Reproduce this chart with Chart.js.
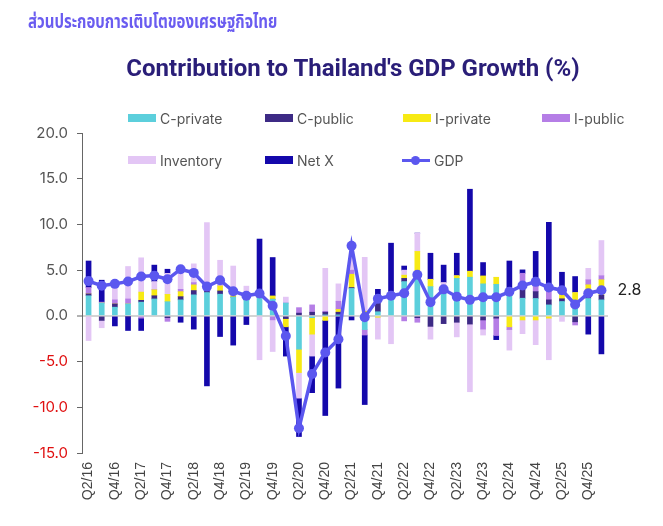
<!DOCTYPE html>
<html><head><meta charset="utf-8">
<script src="https://cdn.jsdelivr.net/npm/chart.js@4.4.1/dist/chart.umd.min.js"></script>
<style>
html,body{margin:0;padding:0;background:#fff;}
#wrap{position:relative;width:663px;height:526px;overflow:hidden;background:#fff;}
#c{position:absolute;left:0;top:0;}
.thai{position:absolute;left:28px;top:7px;font-weight:bold;font-size:20px;font-family:"Noto Sans Thai","Loma","Garuda","Noto Sans","DejaVu Sans",sans-serif;color:#6a5cf0;white-space:nowrap;transform:scaleX(0.75);transform-origin:0 0;}
.title{position:absolute;left:0;width:706px;top:54px;text-align:center;font-weight:bold;font-size:24px;font-family:Roboto,sans-serif;color:#2a1e78;white-space:nowrap;}
.lg{position:absolute;height:20px;display:flex;align-items:center;font-family:Inter,sans-serif;font-size:14px;color:#555;white-space:nowrap;}
.box{display:inline-block;width:28px;height:8px;margin-right:4px;}
.ln{position:relative;display:inline-block;width:28px;height:3px;background:#5b57ef;margin-right:4px;}
.ln::after{content:"";position:absolute;left:9px;top:-3px;width:9px;height:9px;border-radius:50%;background:#5b57ef;}
</style></head>
<body>
<div id="wrap">
<canvas id="c" width="663" height="526"></canvas>
<div class="thai">ส่วนประกอบการเติบโตของเศรษฐกิจไทย</div>
<div class="title">Contribution to Thailand's GDP Growth (%)</div>
<div id="legend"></div>
</div>
<script>
const quarters = ["Q2/16","Q3/16","Q4/16","Q1/17","Q2/17","Q3/17","Q4/17","Q1/18","Q2/18","Q3/18",
"Q4/18","Q1/19","Q2/19","Q3/19","Q4/19","Q1/20","Q2/20","Q3/20","Q4/20","Q1/21",
"Q2/21","Q3/21","Q4/21","Q1/22","Q2/22","Q3/22","Q4/22","Q1/23","Q2/23","Q3/23",
"Q4/23","Q1/24","Q2/24","Q3/24","Q4/24","Q1/25","Q2/25","Q3/25","Q4/25","Q1/26"];
const cPrivate = [2.2,1.4,0.95,1.3,1.5,1.85,1.55,1.75,2.3,2.55,2.37,2.05,1.75,2.0,1.82,1.4,-3.65,-0.2,0.1,0.05,3.0,-1.5,0.45,2.0,3.75,4.85,3.2,2.9,4.1,4.23,3.5,3.45,2.85,1.93,1.9,1.2,1.57,1.57,1.9,1.75];
const cPublic = [0.2,-0.5,0.35,-0.1,0.2,0.35,-0.2,0.35,0.47,0.35,0.36,0,0,0.05,0,-0.3,0.3,0.4,0.3,0.35,0.1,0.3,1.0,0.4,0.35,-0.2,-1.15,-0.85,-0.7,-0.9,-0.45,-0.25,0,0.98,0.75,0.55,0.3,-0.65,0.5,0.5];
const iPrivate = [0,0,0,0,0.9,0.65,0.8,0.55,0.62,0,0.55,0.15,0,0.05,0.36,-0.9,-2.55,-1.8,-0.5,0.3,1.45,0.2,-0.15,0.2,0.35,2.2,0.8,0,0.3,0.65,0.87,0.77,-1.2,-0.45,-0.45,-0.25,0.45,0.98,1.0,1.7];
const iPublic = [0.7,0.1,0.45,0.55,-0.25,0,-0.4,0.25,0.25,0.3,0,0,0,0.25,-0.44,0,0.6,0.8,0.1,0.9,0.45,-0.6,0.3,0,-0.55,-0.5,0,0,0,0,-1.0,-1.9,-0.3,1.75,0.6,1.28,0,-0.35,0.55,0.44];
const inventory = [-2.7,-0.8,1.85,3.55,3.75,0.9,2.3,2.3,2.05,7.0,2.8,3.25,1.5,-4.8,-3.46,0.65,-2.8,-2.4,4.7,1.9,1.45,5.9,-2.4,-3.05,0.55,2.0,-1.4,0.75,-1.6,-7.4,-0.65,0,-2.25,-1.5,-2.7,-4.55,-0.6,0,1.25,3.85];
const netX = [2.9,2.4,-1.1,-1.5,-1.35,1.8,0.45,-0.7,-1.45,-7.66,-2.26,-3.2,-0.95,6.05,4.2,-3.2,-4.2,-4.0,-10.4,-7.9,-0.45,-7.6,1.15,5.35,0.45,0,2.85,1.9,2.45,8.97,1.46,-0.45,3.15,0.37,3.8,7.2,2.45,1.75,-2.0,-4.16];
const gdp = [3.8,3.3,3.5,3.75,4.3,4.4,4.0,5.1,4.7,3.2,3.9,2.7,2.2,2.45,1.1,-2.2,-12.3,-6.35,-4.0,-2.55,7.66,-0.15,1.86,2.19,2.48,4.49,1.5,2.9,2.1,1.75,2.04,2.04,2.63,3.32,3.72,3.1,2.81,1.24,2.48,2.8];
const yTicks = [-15,-10,-5,0,5,10,15,20];

const colors = {cPrivate:'#5ccfdc', cPublic:'#3d2a85', iPrivate:'#f7ea14', iPublic:'#b57ee6', inventory:'#e3c6f5', netX:'#1408ab', gdp:'#5b57ef'};

const legendItems = [
  {t:'C-private', c:colors.cPrivate, x:128, y:118},
  {t:'C-public', c:colors.cPublic, x:265, y:118},
  {t:'I-private', c:colors.iPrivate, x:403, y:118},
  {t:'I-public', c:colors.iPublic, x:542, y:118},
  {t:'Inventory', c:colors.inventory, x:128, y:160},
  {t:'Net X', c:colors.netX, x:265, y:160},
  {t:'GDP', c:colors.gdp, x:402, y:160, line:true}
];
const lg = document.getElementById('legend');
legendItems.forEach(it => {
  const d = document.createElement('div');
  d.className = 'lg';
  d.style.left = it.x + 'px';
  d.style.top = (it.y - 10) + 'px';
  d.innerHTML = (it.line ? '<span class="ln"></span>' : '<span class="box" style="background:' + it.c + '"></span>') + it.t;
  lg.appendChild(d);
});

const bar = (label, data, color) => ({type:'bar', label, data, backgroundColor:color, barThickness:5, order:2, stack:'s'});

const lastLabel = {
  id:'lastLabel',
  afterDatasetsDraw(chart){
    const meta = chart.getDatasetMeta(6);
    const p = meta.data[meta.data.length-1];
    const ctx = chart.ctx;
    ctx.save();
    ctx.font = '16px Inter, sans-serif';
    ctx.fillStyle = '#222';
    ctx.textAlign = 'left';
    ctx.textBaseline = 'middle';
    ctx.fillText(gdp[gdp.length-1].toFixed(1), p.x + 16, p.y);
    ctx.restore();
  }
};

new Chart(document.getElementById('c'), {
  data: {
    labels: quarters,
    datasets: [
      bar('C-private', cPrivate, colors.cPrivate),
      bar('C-public', cPublic, colors.cPublic),
      bar('I-private', iPrivate, colors.iPrivate),
      bar('I-public', iPublic, colors.iPublic),
      bar('Inventory', inventory, colors.inventory),
      bar('Net X', netX, colors.netX),
      {type:'line', label:'GDP', data:gdp, borderColor:colors.gdp, backgroundColor:colors.gdp,
       borderWidth:3.5, pointRadius:5, pointBorderWidth:0, pointBackgroundColor:colors.gdp, tension:0, order:0}
    ]
  },
  options: {
    responsive:false,
    animation:false,
    events:[],
    layout:{padding:{left:0, right:55, top:133, bottom:0}},
    plugins:{legend:{display:false}, tooltip:{enabled:false}, title:{display:false}},
    scales:{
      x:{
        stacked:true,
        offset:true,
        grid:{display:false, drawTicks:false},
        border:{display:false},
        ticks:{
          autoSkip:false, maxRotation:90, minRotation:90, padding:9,
          font:{family:'"Liberation Sans", Arial, sans-serif', size:14}, color:'#444',
          callback:function(v, i){ return i % 2 === 0 ? quarters[i] : ''; }
        },
        afterFit:function(s){ s.height = 73; }
      },
      y:{
        stacked:true,
        min:-15, max:20,
        afterBuildTicks:function(s){ s.ticks = yTicks.map(v => ({value:v})); },
        grid:{
          color:function(c){ return c.tick && c.tick.value === 0 ? '#d4d4d4' : 'rgba(0,0,0,0)'; },
          lineWidth:function(c){ return c.tick && c.tick.value === 0 ? 2 : 1; },
          tickColor:'#666', tickLength:5, tickWidth:1, drawTicks:true
        },
        border:{display:true, color:'#666', width:1},
        ticks:{
          padding:9,
          font:{family:'Inter, sans-serif', size:15},
          color:function(c){ return c.tick && c.tick.value < 0 ? '#e01010' : '#555'; },
          callback:function(v){ return Number(v).toFixed(1); }
        },
        afterFit:function(s){ s.width = 82; }
      }
    }
  },
  plugins:[lastLabel]
});
</script>
</body></html>
